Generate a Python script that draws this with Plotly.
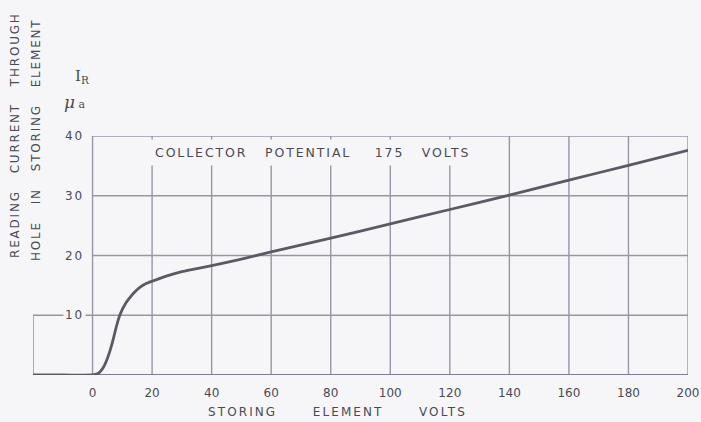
import plotly.graph_objects as go

# ---- data ----
volts = [-20, -10, 0, 1, 2, 3, 4, 5, 6, 7, 8, 9, 10, 11, 12, 14, 16, 18, 20,
         25, 30, 35, 40, 50, 60, 80, 100, 120, 140, 160, 180, 200]
current = [0, 0, 0, 0.1, 0.3, 0.8, 1.6, 2.8, 4.3, 6.1, 8.1, 9.8, 11.0, 11.9,
           12.6, 13.8, 14.7, 15.3, 15.7, 16.6, 17.3, 17.8, 18.3, 19.4, 20.6,
           22.9, 25.3, 27.7, 30.1, 32.6, 35.1, 37.6]

x_ticks = [0, 20, 40, 60, 80, 100, 120, 140, 160, 180, 200]
x_tick_labels = ["0", "20", "40", "60", "80", "100", "120", "140", "160", "180", "200"]
y_ticks = [10, 20, 30, 40]
y_tick_labels = ["10", "20", "30", "40"]
x_min, x_max = -20, 200
y_min, y_max = 0, 40

BG = "#f6f6f8"
GRID = "#9896a6"
INK = "#5a5a64"
TXT = "#4a4a55"
FONT = "DejaVu Sans"


def spaced(text, ls):
    return '<span style="letter-spacing:%spx">%s</span>' % (ls, text)


fig = go.Figure()

fig.add_trace(go.Scatter(x=volts, y=current, mode="lines",
                         line=dict(color=INK, width=2.8, shape="spline", smoothing=0.6),
                         hoverinfo="skip", showlegend=False))

shapes = []
for xv in x_ticks:
    shapes.append(dict(type="line", xref="x", yref="y", x0=xv, x1=xv, y0=y_min, y1=y_max,
                       line=dict(color=GRID, width=1.4), layer="below"))
for yv in y_ticks:
    shapes.append(dict(type="line", xref="x", yref="y", x0=x_ticks[0], x1=x_max, y0=yv, y1=yv,
                       line=dict(color=GRID, width=1.4), layer="below"))
shapes.append(dict(type="line", xref="x", yref="y", x0=x_min, x1=x_max, y0=y_min, y1=y_min,
                   line=dict(color="#7e7c8c", width=1.8), layer="below"))
shapes.append(dict(type="line", xref="x", yref="y", x0=x_min, x1=x_ticks[0], y0=y_ticks[0], y1=y_ticks[0],
                   line=dict(color=GRID, width=1.4), layer="below"))
shapes.append(dict(type="line", xref="x", yref="y", x0=x_min, x1=x_min, y0=y_min, y1=y_ticks[0],
                   line=dict(color=GRID, width=1.6), layer="below"))

for yv, lab in zip(y_ticks, y_tick_labels):
    fig.add_annotation(x=x_ticks[0], y=yv, xref="x", yref="y", text=spaced(lab, 1.8),
                       showarrow=False, xanchor="right", yanchor="middle", xshift=-7,
                       font=dict(family=FONT, size=12, color=TXT),
                       bgcolor=BG, borderpad=1)

fig.add_annotation(x=74, y=37.2, xref="x", yref="y",
                   text=spaced("COLLECTOR&nbsp;&nbsp;&nbsp;POTENTIAL&nbsp;&nbsp;&nbsp;&nbsp;175&nbsp;&nbsp;&nbsp;VOLTS", 1.9),
                   showarrow=False, xanchor="center", yanchor="middle",
                   font=dict(family=FONT, size=12.5, color=TXT),
                   bgcolor=BG, borderpad=5)

W, H = 701, 422
ML, MR, MT, MB = 33, 13, 136, 47
PW, PH = W - ML - MR, H - MT - MB


def px(xp):
    return (xp - ML) / PW


def py(yp):
    return (H - MB - yp) / PH


extra = [
    dict(x=px(337), y=py(412), text=spaced("STORING&nbsp;&nbsp;&nbsp;&nbsp;&nbsp;&nbsp;ELEMENT&nbsp;&nbsp;&nbsp;&nbsp;&nbsp;&nbsp;VOLTS", 2.1),
         font=dict(family=FONT, size=12, color=TXT)),
    dict(x=px(15), y=py(135), textangle=-90,
         text=spaced("READING&nbsp;&nbsp;&nbsp;CURRENT&nbsp;&nbsp;&nbsp;THROUGH", 1.8),
         font=dict(family=FONT, size=12, color=TXT)),
    dict(x=px(36), y=py(140), textangle=-90,
         text=spaced("HOLE&nbsp;&nbsp;&nbsp;IN&nbsp;&nbsp;&nbsp;STORING&nbsp;&nbsp;&nbsp;ELEMENT", 1.8),
         font=dict(family=FONT, size=12, color=TXT)),
    dict(x=px(82), y=py(76), text="I<sub>R</sub>",
         font=dict(family="DejaVu Serif", size=15, color=TXT)),
    dict(x=px(75), y=py(102), text="<i>μ</i><span style='font-size:11px'> a</span>",
         font=dict(family="DejaVu Serif", size=17, color=TXT)),
]
for a in extra:
    a.update(xref="paper", yref="paper", showarrow=False, xanchor="center", yanchor="middle")
    fig.add_annotation(**a)

fig.update_layout(
    width=W, height=H,
    margin=dict(l=ML, r=MR, t=MT, b=MB, pad=0, autoexpand=False),
    paper_bgcolor=BG, plot_bgcolor=BG,
    shapes=shapes,
    showlegend=False,
    xaxis=dict(range=[x_min, x_max], showgrid=False, zeroline=False, showline=False,
               tickmode="array", tickvals=x_ticks, ticktext=x_tick_labels,
               ticks="", ticklabelstandoff=9, automargin=False,
               tickfont=dict(family=FONT, size=12, color=TXT), fixedrange=True),
    yaxis=dict(range=[y_min, y_max], showgrid=False, zeroline=False, showline=False,
               showticklabels=False, ticks="", fixedrange=True, automargin=False),
)

fig.write_html("out.html", config={"displayModeBar": False},
               post_script="document.body.style.margin='0';document.body.style.overflow='hidden';")
